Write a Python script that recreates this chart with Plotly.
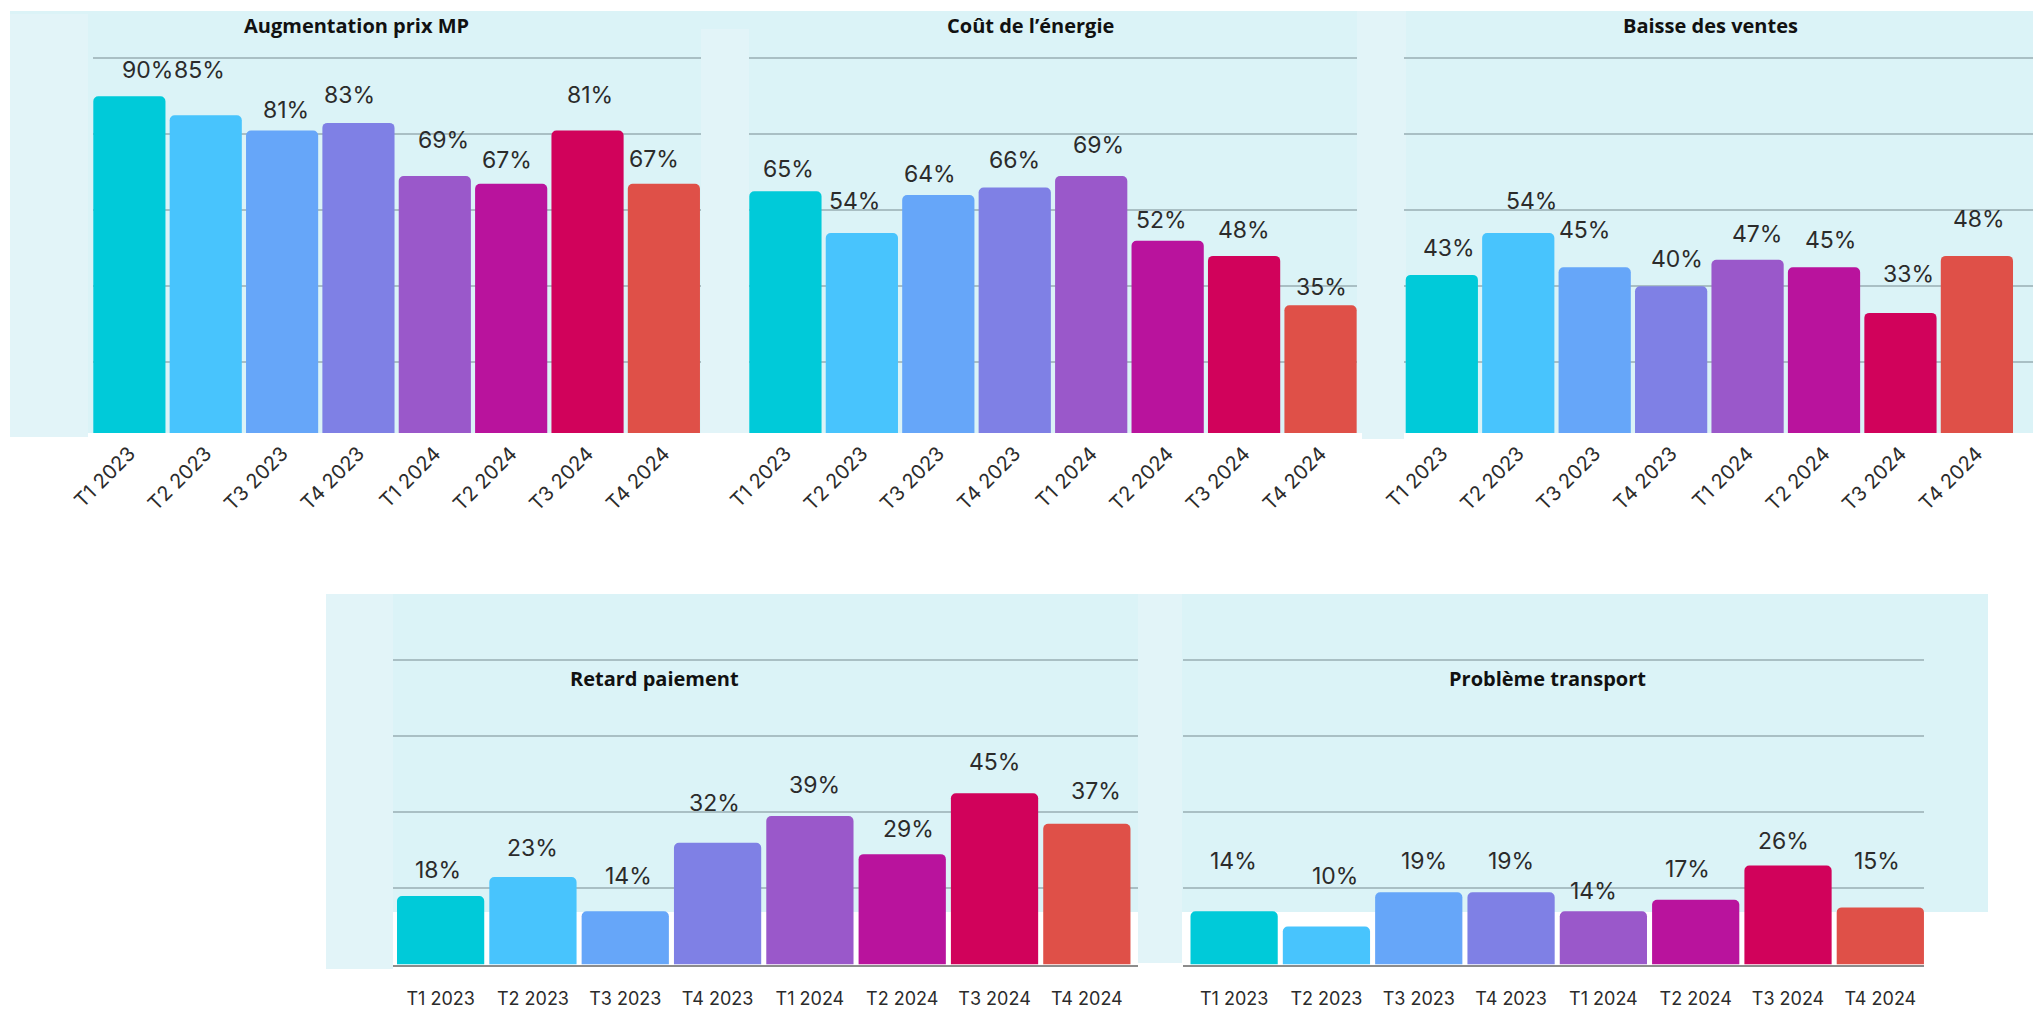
import plotly.graph_objects as go

W, H = 2033, 1012

# ---------------- data ----------------
categories = ["T1 2023", "T2 2023", "T3 2023", "T4 2023",
              "T1 2024", "T2 2024", "T3 2024", "T4 2024"]

augmentation_prix_mp = [90, 85, 81, 83, 69, 67, 81, 67]
cout_energie = [65, 54, 64, 66, 69, 52, 48, 35]
baisse_ventes = [43, 54, 45, 40, 47, 45, 33, 48]
retard_paiement = [18, 23, 14, 32, 39, 29, 45, 37]
probleme_transport = [14, 10, 19, 19, 14, 17, 26, 15]

titles = ["Augmentation prix MP", "Coût de l’énergie", "Baisse des ventes",
          "Retard paiement", "Problème transport"]

# ---------------- styles ----------------
bar_colors = ["#00CAD9", "#48C4FD", "#66A6F9", "#7F80E5",
              "#9A58CA", "#B9139D", "#D1025B", "#DF5048"]

# per-label pixel nudges (dx, dy above bar top), as placed in the original
label_dx = [
    [18, -6, 4, -9, 9, -4, 2, -10],
    [3, -7, -8, 0, 7, -6, 0, 1],
    [7, 13, -10, 6, 9, 6, 8, 2],
    [-3, 0, 3, -3, 5, 6, 0, 9],
    [-1, 9, 5, 0, -10, -8, -5, -3],
]
label_dy = [
    [26, 45, 21, 28, 36, 24, 36, 25],
    [22, 32, 21, 28, 31, 21, 26, 18],
    [27, 32, 37, 27, 26, 27, 39, 37],
    [26, 29, 35, 40, 31, 25, 31, 33],
    [50, 50, 31, 31, 20, 31, 25, 46],
]

BG = "#DBF3F7"
BG2 = "#E2F4F8"
GRID = "#A9BFC4"
TXT = "#2B2B2B"
NUM_FONT = "Inter"
TITLE_FONT = "Open Sans"


def px_x(x):
    return x / W


def px_y(y):
    return 1 - y / H


# panel geometry in pixels: (x0, x1), (y_top, y_bottom), x-range, y-range
panels = [
    dict(vals=augmentation_prix_mp, xd=(93, 701), yd=(11, 433), xr=[-0.4764, 7.486], yr=[1.39, 112.45],
         title_xy=(356, 26), top=True),
    dict(vals=cout_energie, xd=(749, 1357), yd=(11, 433), xr=[-0.4764, 7.477], yr=[1.39, 112.45],
         title_xy=(1030, 26), top=True),
    dict(vals=baisse_ventes, xd=(1404, 2033), yd=(11, 433), xr=[-0.4947, 7.734], yr=[1.39, 112.45],
         title_xy=(1710, 26), top=True),
    dict(vals=retard_paiement, xd=(393, 1138), yd=(594, 964.5), xr=[-0.5158, 7.554], yr=[0, 97.35],
         title_xy=(654, 678), top=False),
    dict(vals=probleme_transport, xd=(1183, 1924), yd=(594, 964.5), xr=[-0.5537, 7.473], yr=[0, 97.35],
         title_xy=(1547, 678), top=False),
]

fig = go.Figure()
layout = dict(
    width=W, height=H, margin=dict(l=0, r=0, t=0, b=0, pad=0, autoexpand=False),
    paper_bgcolor="white", plot_bgcolor="rgba(0,0,0,0)",
    showlegend=False, bargap=0.055, font=dict(family=NUM_FONT, color=TXT),
)
annotations = []

for i, p in enumerate(panels):
    n = "" if i == 0 else str(i + 1)
    xa, ya = "x" + n, "y" + n
    fig.add_trace(go.Bar(
        x=categories, y=p["vals"], xaxis=xa, yaxis=ya,
        marker=dict(color=bar_colors, cornerradius=5, line=dict(width=0)),
        hoverinfo="skip",
    ))
    top = p["top"]
    layout["xaxis" + n] = dict(
        domain=[px_x(p["xd"][0]), px_x(p["xd"][1])], anchor=ya, automargin=False,
        range=p["xr"], type="category", fixedrange=True,
        showgrid=False, zeroline=False,
        showline=not top, linecolor="#8C8C8C", linewidth=2,
        ticks="", tickangle=-45 if top else 0,
        tickfont=dict(family=NUM_FONT, size=20 if top else 18, color=TXT),
        ticklabelstandoff=4 if top else 17,
    )
    layout["yaxis" + n] = dict(
        domain=[px_y(p["yd"][1]), px_y(p["yd"][0])], anchor=xa, automargin=False,
        range=p["yr"], fixedrange=True,
        tickvals=[20, 40, 60, 80, 100], showticklabels=False,
        showgrid=True, gridcolor=GRID, gridwidth=2, zeroline=False, showline=False,
    )
    # value labels
    for j, (c, v) in enumerate(zip(categories, p["vals"])):
        annotations.append(dict(
            x=c, y=v, xref=xa, yref=ya, text=f"{v}%", showarrow=False,
            xanchor="center", yanchor="middle",
            xshift=label_dx[i][j], yshift=label_dy[i][j],
            font=dict(family=NUM_FONT, size=23, color=TXT),
        ))
    # panel title
    tx, ty = p["title_xy"]
    annotations.append(dict(
        x=px_x(tx), y=px_y(ty), xref="paper", yref="paper", text=f"<b>{titles[i]}</b>",
        showarrow=False, xanchor="center", yanchor="middle",
        font=dict(family=TITLE_FONT, size=20, color="#111111"),
    ))


def rect(x0, y0, x1, y1, color):
    return dict(type="rect", xref="paper", yref="paper",
                x0=px_x(x0), x1=px_x(x1), y0=px_y(y1), y1=px_y(y0),
                fillcolor=color, line=dict(width=0), layer="below")


shapes = [
    rect(10, 11, 2033, 433, BG),
    rect(10, 14, 88, 437, BG2),
    rect(701, 29, 749, 433, BG2),
    rect(1357, 11, 1406, 433, BG2),
    rect(1362, 433, 1404, 439, BG2),
    rect(326, 594, 393, 969, BG2),
    rect(393, 594, 1138, 912, BG),
    rect(1138, 594, 1182, 963, BG2),
    rect(1182, 594, 1988, 912, BG),
]

layout["annotations"] = annotations
layout["shapes"] = shapes
fig.update_layout(**layout)

fig.write_html("out.html", config={"displayModeBar": False})
